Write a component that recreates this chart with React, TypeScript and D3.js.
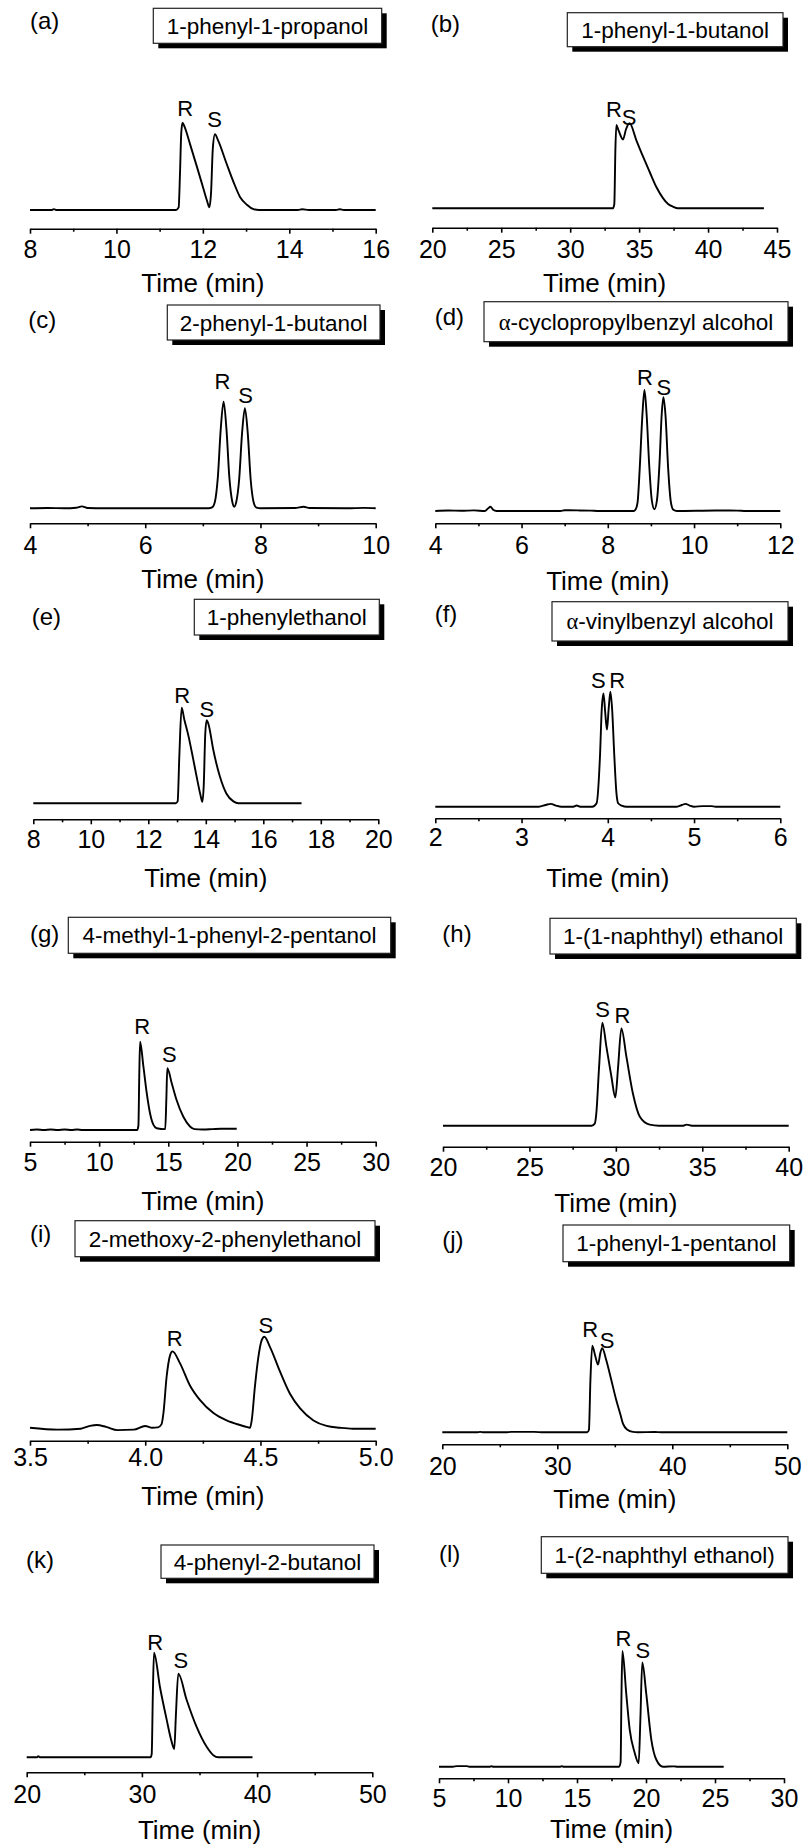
import React, { useEffect, useRef } from 'react';
import * as d3 from 'd3';

const FONT = '"Liberation Sans", Arial, Helvetica, sans-serif';

// ---- chart data ----
const panelLetters = ['(a)', '(b)', '(c)', '(d)', '(e)', '(f)', '(g)', '(h)', '(i)', '(j)', '(k)', '(l)'];

const compoundNames = [
  '1-phenyl-1-propanol',
  '1-phenyl-1-butanol',
  '2-phenyl-1-butanol',
  'α-cyclopropylbenzyl alcohol',
  '1-phenylethanol',
  'α-vinylbenzyl alcohol',
  '4-methyl-1-phenyl-2-pentanol',
  '1-(1-naphthyl) ethanol',
  '2-methoxy-2-phenylethanol',
  '1-phenyl-1-pentanol',
  '4-phenyl-2-butanol',
  '1-(2-naphthyl ethanol)',
];

const timeDomains: [number, number][] = [
  [8, 16], [20, 45], [4, 10], [4, 12], [8, 20], [2, 6],
  [5, 30], [20, 40], [3.5, 5], [20, 50], [20, 50], [5, 30],
];

const majorTicks = [
  [8, 10, 12, 14, 16],
  [20, 25, 30, 35, 40, 45],
  [4, 6, 8, 10],
  [4, 6, 8, 10, 12],
  [8, 10, 12, 14, 16, 18, 20],
  [2, 3, 4, 5, 6],
  [5, 10, 15, 20, 25, 30],
  [20, 25, 30, 35, 40],
  [3.5, 4.0, 4.5, 5.0],
  [20, 30, 40, 50],
  [20, 30, 40, 50],
  [5, 10, 15, 20, 25, 30],
];

const minorTicks = [
  [9, 11, 13, 15],
  [22.5, 27.5, 32.5, 37.5, 42.5],
  [5, 7, 9],
  [5, 7, 9, 11],
  [9, 11, 13, 15, 17, 19],
  [2.5, 3.5, 4.5, 5.5],
  [7.5, 12.5, 17.5, 22.5, 27.5],
  [22.5, 27.5, 32.5, 37.5],
  [3.75, 4.25, 4.75],
  [25, 35, 45],
  [25, 35, 45],
  [7.5, 12.5, 17.5, 22.5, 27.5],
];

const tickDecimals = [0, 0, 0, 0, 0, 0, 0, 0, 1, 0, 0, 0];

// [time (min), relative intensity]
const traceA = [[8.0,0],[8.5,0],[8.55,1],[8.62,0],[11.38,0],[11.44,3],[11.47,40],[11.5,88],[11.53,100],[11.58,95],[11.7,76],[11.86,50],[12.01,25],[12.1,10],[12.15,3],[12.19,20],[12.23,70],[12.28,86.7],[12.35,80],[12.55,53],[12.71,32],[12.86,15],[13.02,6],[13.17,1],[13.3,0],[14.2,0],[14.3,0.8],[14.45,0],[15.08,0],[15.17,0.8],[15.26,0],[16.0,0]];
const traceB = [[20,0],[33.1,0],[33.2,5],[33.28,70],[33.35,98],[33.5,92],[33.83,81],[34.05,93],[34.31,100],[34.8,80],[35.28,61],[35.76,43],[36.25,25],[36.73,12],[37.1,5],[37.45,2],[37.8,0],[44.05,0]];
const traceC = [[4,0],[4.3,0.3],[4.6,0],[4.8,0.5],[4.9,1.8],[5.0,0.3],[5.3,0],[6.6,0],[7.1,0],[7.16,0.8],[7.21,6.4],[7.26,29],[7.31,74],[7.36,100],[7.41,74],[7.46,29],[7.51,6.4],[7.545,1.5],[7.58,6],[7.63,27],[7.68,70],[7.73,94],[7.78,70],[7.83,27],[7.88,6],[7.93,0.7],[8.0,0],[8.6,0.3],[8.75,1.5],[8.85,0.3],[9.5,0],[9.8,0.4],[10,0]];
const traceD = [[4,0],[4.3,0.4],[4.6,0.2],[4.9,0.5],[5.15,0],[5.22,2],[5.28,3.5],[5.34,1],[5.42,0],[6.9,0],[7.0,0.6],[7.3,0.5],[7.6,0.3],[7.8,0],[8.6,0],[8.64,1],[8.69,7],[8.74,35],[8.8,78],[8.85,100],[8.9,80],[8.96,38],[9.02,9],[9.08,1.5],[9.14,9],[9.2,40],[9.25,80],[9.29,94],[9.34,78],[9.4,35],[9.46,8],[9.52,1],[9.6,0],[10.5,0.4],[11.0,0.3],[11.2,0],[12,0]];
const traceE = [[8,0],[12.95,0],[13.02,2],[13.08,50],[13.16,100],[13.25,88],[13.4,70],[13.55,48],[13.7,25],[13.82,8],[13.88,1.5],[13.93,20],[13.98,72],[14.03,87],[14.1,82],[14.26,56],[14.49,28],[14.72,10],[14.96,2],[15.13,0],[17.33,0]];
const traceF = [[2,0],[3.2,0],[3.28,1.5],[3.34,2.5],[3.4,1],[3.46,0],[3.6,0],[3.64,1],[3.68,0],[3.82,0],[3.87,3],[3.91,45],[3.93,85],[3.95,98.5],[3.97,82],[3.99,67],[4.01,85],[4.03,100],[4.05,85],[4.075,45],[4.1,12],[4.12,3],[4.16,1],[4.22,0],[4.8,0],[4.86,1.5],[4.9,2.5],[4.95,1],[5.0,0],[5.1,0.5],[5.2,0.5],[5.25,0],[6,0]];
const traceG = [[5,0],[5.5,0.5],[6,0],[6.5,0.6],[7,0],[7.5,0.6],[8,0],[8.4,0.5],[8.8,0],[12.75,0],[12.84,5],[12.9,60],[12.96,100],[13.2,72],[13.44,42],[13.68,19],[13.92,6],[14.16,2],[14.78,1],[14.86,35],[14.93,70],[15.25,53],[15.6,34],[16.09,15],[16.57,4],[16.9,1],[17.5,0.5],[18.2,1],[18.8,1.5],[19.95,1.5]];
const traceH = [[20,0],[28.6,0],[28.78,2],[28.87,12],[29.03,57],[29.22,100],[29.45,77],[29.74,48],[29.97,27.5],[30.13,57],[30.32,94.5],[30.61,67],[30.99,31],[31.38,9],[31.96,1],[32.5,0],[33.9,0],[34.1,1],[34.4,0],[40,0]];
const traceI = [[3.5,1],[3.62,-1],[3.72,0],[3.76,3],[3.79,4],[3.83,2],[3.88,-1.5],[3.95,-1],[4.0,3],[4.03,1],[4.055,1.5],[4.071,5],[4.079,17],[4.093,57],[4.108,80],[4.118,84],[4.151,71],[4.194,47],[4.238,31],[4.296,17],[4.353,9],[4.411,4],[4.447,1.5],[4.455,1],[4.462,9],[4.476,46],[4.491,78],[4.505,96],[4.517,100],[4.541,89],[4.585,62],[4.628,38],[4.672,22],[4.73,9],[4.787,3],[4.845,1],[4.9,0],[5.0,0]];
const traceJ = [[20,0],[23,0],[23.3,0.5],[23.6,0],[25.5,0],[26,0.5],[27,0.5],[28,0.5],[28.8,0],[32.6,0],[32.75,3],[32.88,60],[33.04,100],[33.3,88],[33.54,78],[33.75,92],[33.91,97],[34.26,83],[34.7,60],[35.13,37],[35.5,20],[35.71,10],[36.1,3],[36.58,0.5],[37,0],[38.5,0.3],[39,0],[50,0]];
const traceK = [[20,0],[20.9,0],[21.0,1],[21.15,0],[30.75,0],[30.85,3],[30.95,60],[31.05,100],[31.57,67],[32.15,36],[32.58,15],[32.81,8],[32.95,40],[33.16,80],[33.88,55],[34.75,29],[35.62,10],[36.2,2],[36.63,0],[39.6,0]];
const traceL = [[5,0],[6.0,0],[6.3,0.5],[7.0,0.5],[7.2,0],[8.7,0],[8.8,0.5],[8.9,0],[13.8,0],[13.9,0.5],[14.0,0],[18.05,0],[18.16,4],[18.22,60],[18.29,100],[18.57,63],[18.82,32],[19.18,12],[19.47,3],[19.59,40],[19.73,90],[20.02,63],[20.39,23],[20.75,6],[21.23,0],[22,0.3],[22.3,0],[25.63,0]];

const traces = [traceA, traceB, traceC, traceD, traceE, traceF, traceG, traceH, traceI, traceJ, traceK, traceL];

// peak labels: [text, time, intensity of label baseline]
const peakLabels: [string, number, number][][] = [
  [['R', 11.59, 107.7], ['S', 12.27, 95.4]],
  [['R', 33.18, 107.8], ['S', 34.27, 98]],
  [['R', 7.34, 111.9], ['S', 7.74, 98.5]],
  [['R', 8.86, 104.1], ['S', 9.3, 95.9]],
  [['R', 13.18, 105.2], ['S', 14.04, 90.6]],
  [['S', 3.89, 103], ['R', 4.11, 103]],
  [['R', 13.12, 108.7], ['S', 15.07, 77.4]],
  [['S', 29.24, 105.8], ['R', 30.38, 99.4]],
  [['R', 4.128, 90.2], ['S', 4.523, 103.7]],
  [['R', 32.87, 110.4], ['S', 34.32, 97]],
  [['R', 31.16, 102.6], ['S', 33.37, 85.1]],
  [['R', 18.36, 104.3], ['S', 19.78, 93.7]],
];

// ---- layout (pixels) ----
type Layout = {
  x0: number; x1: number; axisY: number; baseY: number; peakH: number;
  labelGap: number; titleDy: number; letterX: number; letterY: number;
  box: [number, number, number, number];
};

const layout: Layout[] = [
  { x0: 30, x1: 375.7, axisY: 228.7, baseY: 210, peakH: 87.3, labelGap: 12, titleDy: 63, letterX: 30, letterY: 29, box: [153.3, 8.3, 228.4, 35] },
  { x0: 432.3, x1: 777, axisY: 227.7, baseY: 208.3, peakH: 85, labelGap: 12.3, titleDy: 64, letterX: 430.7, letterY: 32, box: [567.3, 12.7, 215.7, 34] },
  { x0: 30, x1: 375.7, axisY: 523.3, baseY: 508.3, peakH: 106.6, labelGap: 13.3, titleDy: 65, letterX: 28.3, letterY: 328, box: [167.3, 305, 212.7, 35] },
  { x0: 435.3, x1: 780.3, axisY: 523.3, baseY: 511, peakH: 121, labelGap: 12.7, titleDy: 67, letterX: 434.7, letterY: 325, box: [484, 301.7, 304, 40] },
  { x0: 33.3, x1: 378.3, axisY: 819.3, baseY: 803.3, peakH: 95.6, labelGap: 10.7, titleDy: 68, letterX: 31.7, letterY: 625, box: [194.3, 599.3, 185, 35.7] },
  { x0: 435.3, x1: 780.3, axisY: 818.3, baseY: 806.7, peakH: 115, labelGap: 10, titleDy: 69, letterX: 434.7, letterY: 622, box: [552, 601.7, 236, 39.3] },
  { x0: 30, x1: 375.7, axisY: 1141.7, baseY: 1130, peakH: 88.3, labelGap: 11.7, titleDy: 68, letterX: 30, letterY: 942, box: [68.3, 917.3, 322.4, 36] },
  { x0: 443, x1: 788.7, axisY: 1146.7, baseY: 1125.7, peakH: 103, labelGap: 11.7, titleDy: 65, letterX: 442.3, letterY: 942, box: [550, 918.3, 246.3, 35.7] },
  { x0: 30, x1: 375.7, axisY: 1440.7, baseY: 1428.7, peakH: 92, labelGap: 7.7, titleDy: 64, letterX: 30, letterY: 1242, box: [75, 1220.7, 300, 36] },
  { x0: 442.3, x1: 787.3, axisY: 1444.3, baseY: 1432.3, peakH: 86.7, labelGap: 13, titleDy: 64, letterX: 442.3, letterY: 1248, box: [563, 1225, 226.7, 36.7] },
  { x0: 26.7, x1: 372.3, axisY: 1772.3, baseY: 1757.3, peakH: 104.6, labelGap: 12.7, titleDy: 67, letterX: 26, letterY: 1568, box: [161, 1545, 213, 33.3] },
  { x0: 439, x1: 784, axisY: 1778.3, baseY: 1766.7, peakH: 115.7, labelGap: 11, titleDy: 60, letterX: 439, letterY: 1562, box: [541.3, 1536.7, 246.7, 36.6] },
];

function NameText({ name, x, y }: { name: string; x: number; y: number }) {
  const greek = name.startsWith('α');
  return (
    <text x={x} y={y} textAnchor="middle" fontSize={22.5} fontFamily={FONT} fill="#000">
      {greek ? (
        <>
          <tspan fontFamily='"Liberation Serif", "DejaVu Serif", serif'>α</tspan>
          <tspan>{name.slice(1)}</tspan>
        </>
      ) : name}
    </text>
  );
}

function Panel({ i }: { i: number }) {
  const L = layout[i];
  const axisRef = useRef<SVGGElement>(null);
  const x = d3.scaleLinear().domain(timeDomains[i]).range([L.x0, L.x1]);
  const y = d3.scaleLinear().domain([0, 100]).range([L.baseY, L.baseY - L.peakH]);

  useEffect(() => {
    const g = d3.select(axisRef.current);
    g.selectAll('*').remove();
    const fmt = d3.format(`.${tickDecimals[i]}f`);
    const minor = d3.axisBottom(x).tickValues(minorTicks[i]).tickSize(3).tickFormat(() => '');
    const major = d3
      .axisBottom(x)
      .tickValues(majorTicks[i])
      .tickSize(5)
      .tickSizeOuter(0)
      .tickPadding(L.labelGap - 5)
      .tickFormat((d) => fmt(d as number));
    g.append('g').call(minor).call((s) => s.select('.domain').remove());
    g.append('g').call(major);
    g.selectAll('path, line').attr('stroke', '#000').attr('stroke-width', 1.6);
    g.selectAll('text').attr('font-size', 25).attr('font-family', FONT).attr('fill', '#000');
  }, [i]);

  const line = d3
    .line<number[]>()
    .x((d) => x(d[0]))
    .y((d) => y(d[1]))
    .curve(d3.curveMonotoneX);

  const [bx, by, bw, bh] = L.box;

  return (
    <g>
      <text x={L.letterX} y={L.letterY} fontSize={24} fontFamily={FONT} fill="#000">
        {panelLetters[i]}
      </text>
      <rect x={bx + 5} y={by + 5} width={bw} height={bh} fill="#000" />
      <rect x={bx} y={by} width={bw} height={bh} fill="#fff" stroke="#222" strokeWidth={1.2} />
      <NameText name={compoundNames[i]} x={bx + bw / 2} y={by + bh / 2 + 8} />
      <path d={line(traces[i]) ?? ''} fill="none" stroke="#000" strokeWidth={1.9} strokeLinejoin="round" />
      {peakLabels[i].map(([txt, t, v], k) => (
        <text key={k} x={x(t)} y={y(v)} textAnchor="middle" fontSize={22} fontFamily={FONT} fill="#000">
          {txt}
        </text>
      ))}
      <g ref={axisRef} transform={`translate(0,${L.axisY})`} />
      <text
        x={(L.x0 + L.x1) / 2}
        y={L.axisY + L.titleDy}
        textAnchor="middle"
        fontSize={26}
        fontFamily={FONT}
        fill="#000"
      >
        Time (min)
      </text>
    </g>
  );
}

export default function App() {
  return (
    <svg
      width={806}
      height={1847}
      style={{ position: 'absolute', left: 0, top: 0, background: '#fff' }}
    >
      {layout.map((_, i) => (
        <Panel key={i} i={i} />
      ))}
    </svg>
  );
}
